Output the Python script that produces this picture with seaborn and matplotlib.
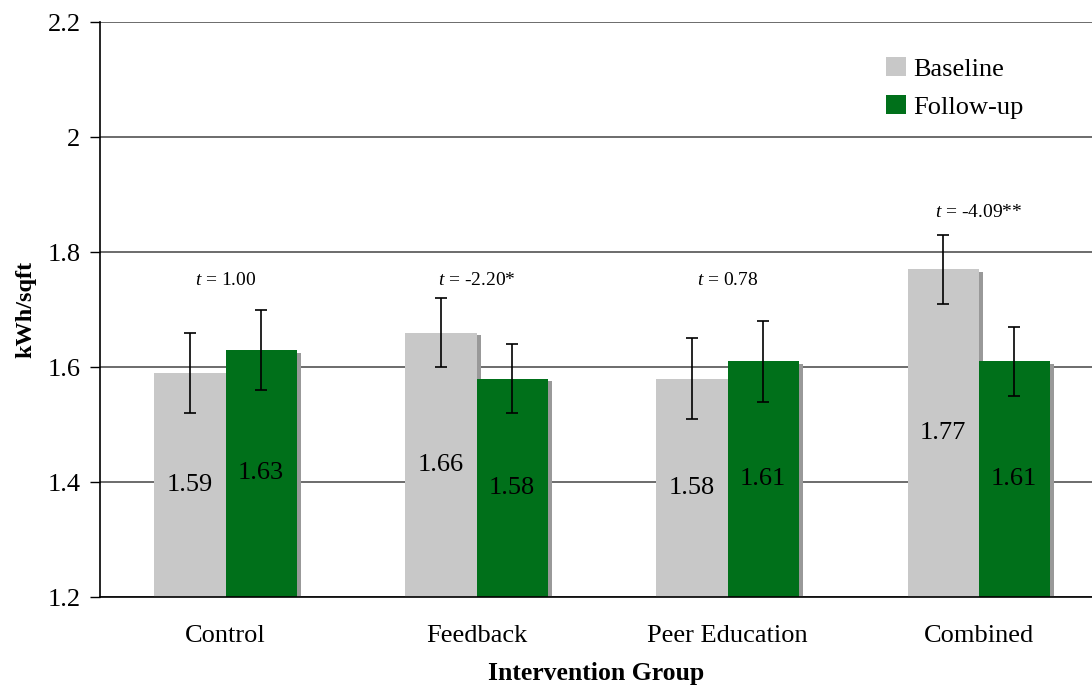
import matplotlib
matplotlib.use("Agg")
import matplotlib.pyplot as plt
import matplotlib.patheffects as pe
from matplotlib.patches import Patch
import seaborn as sns
import pandas as pd
import numpy as np

# ---- data ----
groups = ["Control", "Feedback", "Peer Education", "Combined"]
periods = ["Baseline", "Follow-up"]
baseline = [1.59, 1.66, 1.58, 1.77]
followup = [1.63, 1.58, 1.61, 1.61]
baseline_err = [0.07, 0.06, 0.07, 0.06]
followup_err = [0.07, 0.06, 0.07, 0.06]
t_labels = ["1.00", "-2.20*", "0.78", "-4.09**"]
t_label_y = [1.75, 1.75, 1.75, 1.868]
y_ticks = [1.2, 1.4, 1.6, 1.8, 2.0, 2.2]
y_tick_labels = ["1.2", "1.4", "1.6", "1.8", "2", "2.2"]
colors = {"Baseline": "#c8c8c8", "Follow-up": "#00701a"}

df = pd.DataFrame({
    "Group": groups * 2,
    "Period": ["Baseline"] * 4 + ["Follow-up"] * 4,
    "Value": baseline + followup,
})

sns.set_style("white")
plt.rcParams["font.family"] = ["Liberation Serif", "DejaVu Serif"]
plt.rcParams["mathtext.fontset"] = "custom"
plt.rcParams["mathtext.rm"] = "Liberation Serif"
plt.rcParams["mathtext.it"] = "Liberation Serif:italic"
plt.rcParams["text.color"] = "black"
plt.rcParams["axes.labelcolor"] = "black"
plt.rcParams["xtick.color"] = "black"
plt.rcParams["ytick.color"] = "black"

fig = plt.figure(figsize=(10.92, 6.86), dpi=100)
ax = fig.add_axes([100 / 1092, 1 - 597 / 686, 1 - 100 / 1092, (597 - 22) / 686])

width = 0.566
sns.barplot(data=df, x="Group", y="Value", hue="Period", order=groups,
            hue_order=periods, palette=colors, width=width, gap=0,
            saturation=1, legend=False, ax=ax, errorbar=None)

shadow = [pe.SimplePatchShadow(offset=(3, -2), shadow_rgbFace="#999999", alpha=1.0), pe.Normal()]
for p in ax.patches:
    p.set_path_effects(shadow)
    p.set_linewidth(0)

# value labels
for cont, vals in zip(ax.containers, [baseline, followup]):
    ax.bar_label(cont, labels=[f"{v:.2f}" for v in vals], label_type="center",
                 fontsize=19, color="black")

# error bars
xs = np.arange(len(groups))
for off, vals, errs in [(-width / 4, baseline, baseline_err), (width / 4, followup, followup_err)]:
    ax.errorbar(xs + off, vals, yerr=errs, fmt="none", ecolor="black",
                elinewidth=1.2, capsize=4.3, capthick=1.2, zorder=5)

# t labels
for x, lab, y in zip(xs, t_labels, t_label_y):
    ax.text(x, y, r"$t$ = " + lab, ha="center", va="center", fontsize=14)

ax.set_ylim(1.2, 2.2)
ax.set_xlim(-0.5, 3.452)
ax.set_yticks(y_ticks)
ax.set_yticklabels(y_tick_labels)
ax.yaxis.grid(True, color="#606060", linewidth=1.3)
ax.set_axisbelow(True)

ax.set_xticks(xs)
ax.set_xticks([0.5, 1.5, 2.5], minor=True)
ax.tick_params(axis="x", which="major", length=0, pad=20, labelsize=19)
ax.tick_params(axis="x", which="minor", length=8, width=1, color="black", direction="out")
ax.tick_params(axis="y", which="major", length=7, width=1, color="black", direction="out",
               pad=7, labelsize=19, left=True)

for s in ["top", "right"]:
    ax.spines[s].set_visible(False)
for s in ["left", "bottom"]:
    ax.spines[s].set_color("black")
    ax.spines[s].set_linewidth(1.2)

ax.set_xlabel("Intervention Group", fontsize=18.5, fontweight="bold", labelpad=11)
ax.set_ylabel("kWh/sqft", fontsize=17.5, fontweight="bold", labelpad=8)

handles = [Patch(facecolor=colors[p], edgecolor="none") for p in periods]
ax.legend(handles, periods, loc="upper left", bbox_to_anchor=(0.7815, 0.958), frameon=False,
          fontsize=19, handlelength=0.75, handleheight=0.75, handletextpad=0.3,
          labelspacing=0.55, borderaxespad=0)

fig.savefig("out.png", dpi=100)
